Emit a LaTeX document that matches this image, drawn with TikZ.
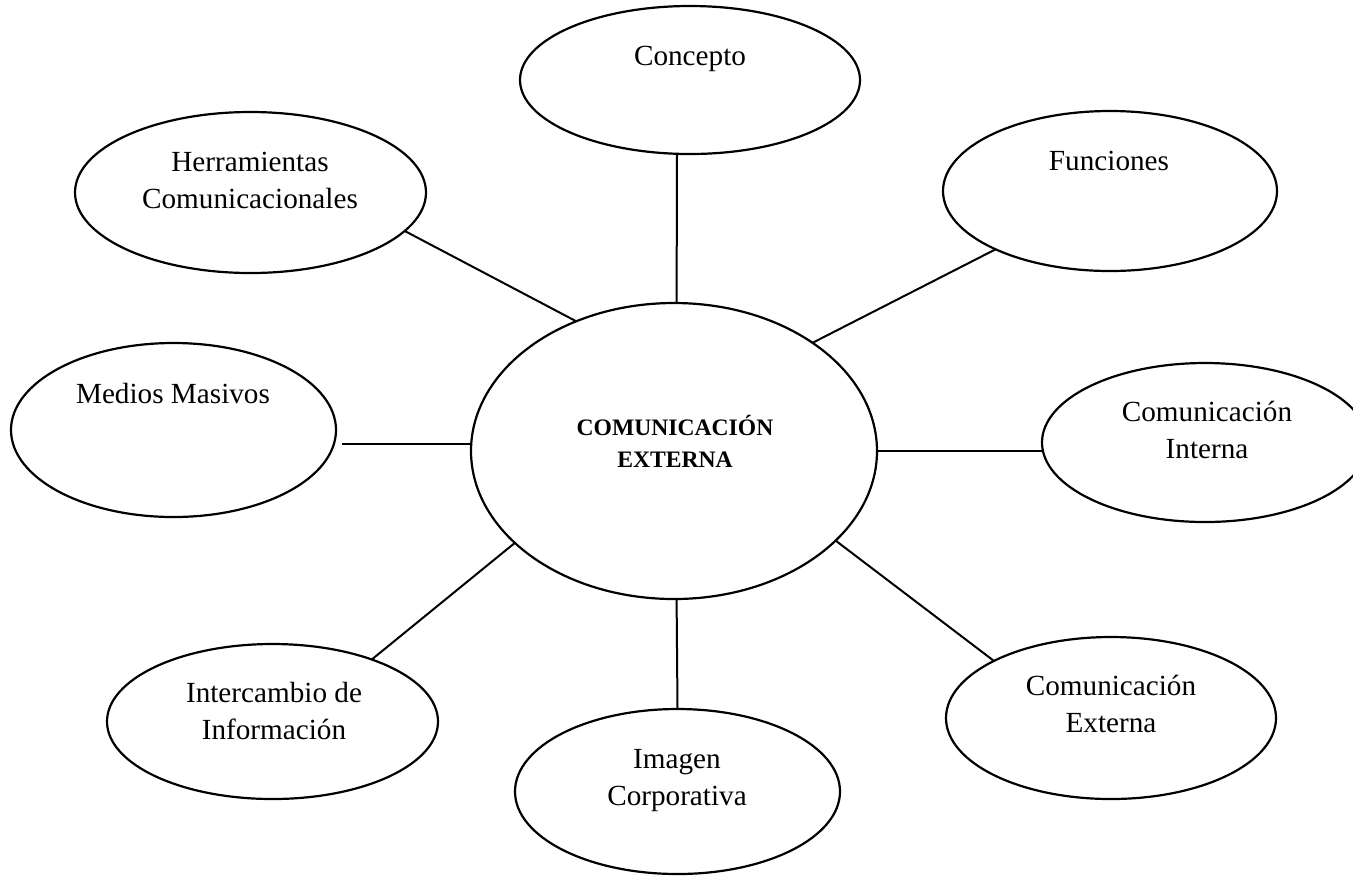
\documentclass[tikz,border=0pt]{standalone}
\usepackage{fontspec}
\setmainfont{Liberation Serif}
\usetikzlibrary{shapes.geometric}

% two centred lines, the first baseline being the node's base
\newcommand\twolines[2]{\begin{tabular}[t]{@{}c@{}}#1\\#2\end{tabular}}

\begin{document}
\begin{tikzpicture}[x=0.5pt,y=-0.5pt,
  bubble/.style={draw, ellipse, line width=1.1pt, inner sep=0pt, outer sep=0pt},
  lbl/.style={anchor=base, inner sep=0pt, font=\fontsize{14.6}{18.5}\selectfont},
  hublbl/.style={anchor=base, inner sep=0pt, font=\fontsize{11.8}{16}\selectfont\bfseries},
  link/.style={line width=1pt}]

\useasboundingbox (0,0) rectangle (1353,875);

% central concept (one canvas unit is 0.5pt, so a size in pt equals the radius in units)
\node[bubble, minimum width=203pt, minimum height=148pt] (hub) at (674,451) {};
\node[hublbl] (hubT) at (675,435) {\twolines{COMUNICACIÓN}{EXTERNA}};

% surrounding topics
\node[bubble, minimum width=170pt, minimum height=74pt] (concepto) at (690,80) {};
\node[bubble, minimum width=167pt, minimum height=80pt] (func) at (1110,191) {};
\node[bubble, minimum width=175.5pt, minimum height=80.5pt] (herr) at (250.5,192.5) {};
\node[bubble, minimum width=162.5pt, minimum height=87pt] (medios) at (173.5,430) {};
\node[bubble, minimum width=163pt, minimum height=79.5pt] (interna) at (1205,442.5) {};
\node[bubble, minimum width=165.5pt, minimum height=77.5pt] (inter) at (272.5,721.5) {};
\node[bubble, minimum width=162.5pt, minimum height=82.5pt] (imagen) at (677.5,791.5) {};
\node[bubble, minimum width=165pt, minimum height=81pt] (ext) at (1111,718) {};

\node[lbl] (conceptoT) at (690,65) {Concepto};
\node[lbl] (funcT) at (1109,170) {Funciones};
\node[lbl] (herrT) at (250,171) {\twolines{Herramientas}{Comunicacionales}};
\node[lbl] (mediosT) at (173,403) {Medios Masivos};
\node[lbl] (internaT) at (1207,421) {\twolines{Comunicación}{Interna}};
\node[lbl] (interT) at (274,702) {\twolines{Intercambio de}{Información}};
\node[lbl] (imagenT) at (677,768) {\twolines{Imagen}{Corporativa}};
\node[lbl] (extT) at (1111,695) {\twolines{Comunicación}{Externa}};

% spokes
\draw[link] (concepto.-100.7) -- (hub.89.2);
\draw[link] (herr.-14.5) -- (hub.127.2);
\draw[link] (func.-153.4) -- (hub.38.1);
\draw[link, shorten >=3pt] (hub.178.4) -- (hub.178.4 -| medios.east);
\draw[link] (hub.-0.3) -- (hub.-0.3 -| interna.west);
\draw[link] (inter.32) -- (hub.-150.1);
\draw[link] (hub.-89.2) -- (imagen.90.8);
\draw[link] (hub.-29) -- (ext.154.6);
\end{tikzpicture}
\end{document}
